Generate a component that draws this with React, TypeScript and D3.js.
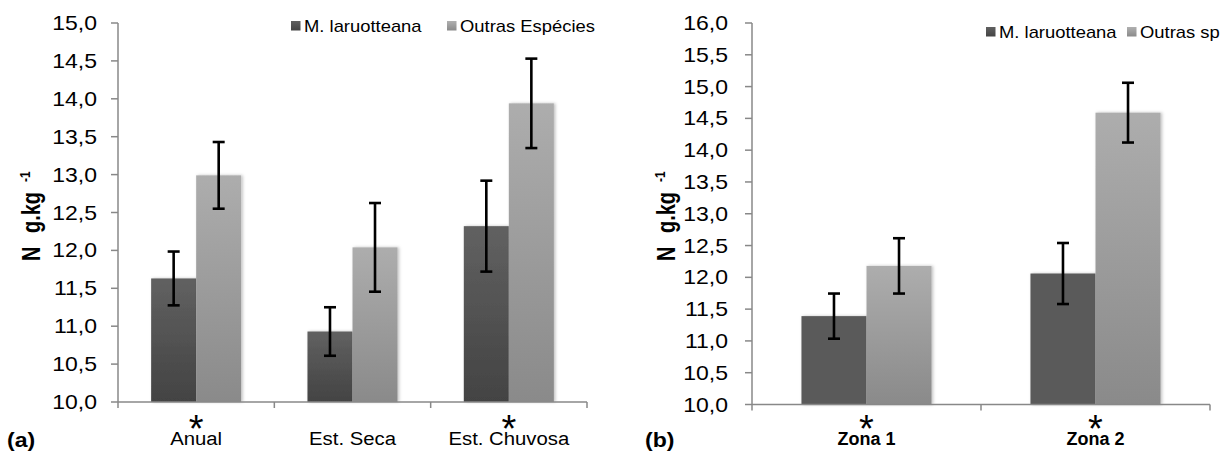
import React from "react";
import * as d3 from "d3";

const seriesNames = ["M. laruotteana", "Outras Espécies"];
const seriesNamesB = ["M. laruotteana", "Outras sp"];

const catsA = ["Anual", "Est. Seca", "Est. Chuvosa"];
const meanA_M = [11.63, 10.93, 12.32];
const meanA_O = [12.99, 12.04, 13.94];
const errA_M = [0.355, 0.32, 0.6];
const errA_O = [0.44, 0.585, 0.59];
const starA = [true, false, true];
const ticksA = [10, 10.5, 11, 11.5, 12, 12.5, 13, 13.5, 14, 14.5, 15];

const catsB = ["Zona 1", "Zona 2"];
const meanB_M = [11.39, 12.06];
const meanB_O = [12.18, 14.59];
const errB_M = [0.355, 0.48];
const errB_O = [0.435, 0.47];
const starB = [true, true];
const ticksB = [10, 10.5, 11, 11.5, 12, 12.5, 13, 13.5, 14, 14.5, 15, 15.5, 16];

const fmt = (v: number) => v.toFixed(1).replace(".", ",");
const FONT = "'Liberation Sans', Arial, sans-serif";

type PanelProps = {
  id: string;
  cats: string[];
  means: number[][];
  errs: number[][];
  stars: boolean[];
  ticks: number[];
  names: string[];
  x0: number;
  x1: number;
  yTop: number;
  yBot: number;
  pad: number;
  darkFill: string;
  lightFill: string;
  boldCats: boolean;
  legendX: number;
  legendY: number;
  legendGap: number;
  yLabelX: number;
  tickOffset: number;
  panelLabel: string;
  panelLabelX: number;
};

function Panel(p: PanelProps) {
  const y = d3.scaleLinear().domain([p.ticks[0], p.ticks[p.ticks.length - 1]]).range([p.yBot, p.yTop]);
  const x = d3.scaleBand<string>().domain(p.cats).range([p.x0, p.x1]).paddingInner(p.pad).paddingOuter(p.pad / 2);
  const xs = d3.scaleBand<number>().domain([0, 1]).range([0, x.bandwidth()]);
  const fills = [p.darkFill, p.lightFill];
  const step = x.step();
  const boundaries = d3.range(p.cats.length + 1).map((i) => p.x0 + i * step);
  return (
    <g>
      {p.cats.map((c, i) => (
        <g key={c}>
          {[0, 1].map((s) => {
            const v = p.means[s][i];
            const bx = (x(c) as number) + (xs(s) as number);
            return (
              <rect
                key={s}
                x={bx}
                y={y(v)}
                width={xs.bandwidth()}
                height={p.yBot - y(v)}
                fill={fills[s]}
                filter="url(#shadow)"
              />
            );
          })}
        </g>
      ))}
      {p.cats.map((c, i) => (
        <g key={"e" + c}>
          {[0, 1].map((s) => {
            const v = p.means[s][i];
            const e = p.errs[s][i];
            const cx = (x(c) as number) + (xs(s) as number) + xs.bandwidth() / 2;
            return (
              <g key={s} stroke="#000" strokeWidth={2.6}>
                <line x1={cx} x2={cx} y1={y(v + e)} y2={y(v - e)} />
                <line x1={cx - 6} x2={cx + 6} y1={y(v + e)} y2={y(v + e)} />
                <line x1={cx - 6} x2={cx + 6} y1={y(v - e)} y2={y(v - e)} />
              </g>
            );
          })}
        </g>
      ))}
      <line x1={p.x0} x2={p.x0} y1={p.yTop} y2={p.yBot} stroke="#888" strokeWidth={1.5} />
      {p.ticks.map((t) => (
        <g key={t}>
          <line x1={p.x0 - 7} x2={p.x0} y1={y(t)} y2={y(t)} stroke="#888" strokeWidth={1.5} />
          <text
            transform={`translate(${p.x0 - p.tickOffset},${y(t) + 7}) scale(1.15,1)`}
            textAnchor="end"
            fontSize={20}
            fontFamily={FONT}
            fill="#000"
          >
            {fmt(t)}
          </text>
        </g>
      ))}
      <line x1={p.x0} x2={p.x1} y1={p.yBot} y2={p.yBot} stroke="#888" strokeWidth={1.5} />
      {boundaries.map((bx, i) => (
        <line key={i} x1={bx} x2={bx} y1={p.yBot} y2={p.yBot + 6} stroke="#888" strokeWidth={1.5} />
      ))}
      {p.cats.map((c, i) => {
        const cx = (x(c) as number) + x.bandwidth() / 2;
        return (
          <g key={"l" + c}>
            {p.stars[i] && (
              <text x={cx} y={442} textAnchor="middle" fontSize={38} fontFamily={FONT} fill="#000">
                *
              </text>
            )}
            <text
              transform={`translate(${cx},445) scale(${p.boldCats ? 1 : 1.07},1)`}
              textAnchor="middle"
              fontSize={p.boldCats ? 18 : 19}
              fontWeight={p.boldCats ? "bold" : "normal"}
              fontFamily={FONT}
              fill="#000"
            >
              {c}
            </text>
          </g>
        );
      })}
      <g>
        <defs>
          <linearGradient id={`${p.id}sq0`} x1="0" y1="0" x2="0" y2="1">
            <stop offset="0" stopColor="#606060" />
            <stop offset="1" stopColor="#444" />
          </linearGradient>
          <linearGradient id={`${p.id}sq1`} x1="0" y1="0" x2="0" y2="1">
            <stop offset="0" stopColor="#b0b0b0" />
            <stop offset="1" stopColor="#8a8a8a" />
          </linearGradient>
        </defs>
        <rect x={p.legendX} y={p.legendY - 11} width={9.5} height={9.5} fill={`url(#${p.id}sq0)`} />
        <text
          transform={`translate(${p.legendX + 13},${p.legendY}) scale(1.15,1)`}
          fontSize={16}
          fontFamily={FONT}
          fill="#000"
        >
          {p.names[0]}
        </text>
        <rect x={p.legendX + p.legendGap} y={p.legendY - 11} width={9.5} height={9.5} fill={`url(#${p.id}sq1)`} />
        <text
          transform={`translate(${p.legendX + p.legendGap + 13},${p.legendY}) scale(1.15,1)`}
          fontSize={16}
          fontFamily={FONT}
          fill="#000"
        >
          {p.names[1]}
        </text>
      </g>
      <g transform={`translate(${p.yLabelX},261) scale(1.25,1) rotate(-90)`} fontFamily={FONT} fontWeight="bold" fill="#000">
        <text x={0} y={0} fontSize={20}>N</text>
        <text x={28} y={0} fontSize={20}>g.kg</text>
        <text x={79} y={-8} fontSize={12}>-1</text>
      </g>
      <text
        transform={`translate(${p.panelLabelX},447) scale(1.1,1)`}
        fontSize={21}
        fontWeight="bold"
        fontFamily={FONT}
        fill="#000"
      >
        {p.panelLabel}
      </text>
    </g>
  );
}

export default function App() {
  return (
    <svg
      width={1222}
      height={452}
      style={{ position: "absolute", left: 0, top: 0, background: "#fff" }}
    >
      <defs>
        <linearGradient id="darkGrad" x1="0" y1="0" x2="0" y2="1">
          <stop offset="0" stopColor="#616161" />
          <stop offset="1" stopColor="#434343" />
        </linearGradient>
        <linearGradient id="lightGrad" x1="0" y1="0" x2="0" y2="1">
          <stop offset="0" stopColor="#adadad" />
          <stop offset="1" stopColor="#8a8a8a" />
        </linearGradient>
        <filter id="shadow" x="-10%" y="-5%" width="125%" height="110%">
          <feDropShadow dx="1.5" dy="0" stdDeviation="1.5" floodColor="#000" floodOpacity="0.25" />
        </filter>
      </defs>
      <rect x={0} y={0} width={1222} height={452} fill="#fff" />
      <Panel
        id="a"
        cats={catsA}
        means={[meanA_M, meanA_O]}
        errs={[errA_M, errA_O]}
        stars={starA}
        ticks={ticksA}
        names={seriesNames}
        x0={118}
        x1={587}
        yTop={23}
        yBot={402}
        pad={0.424}
        darkFill="url(#darkGrad)"
        lightFill="url(#lightGrad)"
        boldCats={false}
        legendX={291}
        legendY={32}
        legendGap={156}
        yLabelX={40}
        tickOffset={21}
        panelLabel="(a)"
        panelLabelX={7}
      />
      <Panel
        id="b"
        cats={catsB}
        means={[meanB_M, meanB_O]}
        errs={[errB_M, errB_O]}
        stars={starB}
        ticks={ticksB}
        names={seriesNamesB}
        x0={752}
        x1={1210}
        yTop={23}
        yBot={404.5}
        pad={0.432}
        darkFill="#5a5a5a"
        lightFill="url(#lightGrad)"
        boldCats={true}
        legendX={986}
        legendY={38}
        legendGap={141}
        yLabelX={675}
        tickOffset={24}
        panelLabel="(b)"
        panelLabelX={645}
      />
    </svg>
  );
}
